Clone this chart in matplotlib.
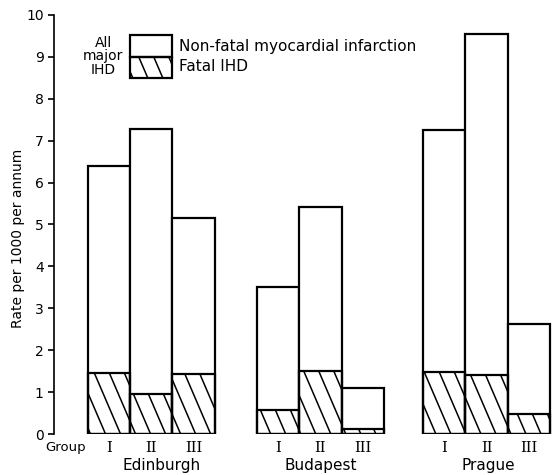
import numpy as np
import matplotlib
matplotlib.use('Agg')
import matplotlib.pyplot as plt
from matplotlib.collections import LineCollection

plt.rcParams['font.family'] = 'DejaVu Sans'

cities = ['Edinburgh', 'Budapest', 'Prague']
groups = ['I', 'II', 'III']
# all major IHD (total) and fatal IHD, per 1000 per annum
all_major = [[6.4, 7.28, 5.15],
             [3.5, 5.42, 1.1],
             [7.25, 9.55, 2.62]]
fatal = [[1.45, 0.95, 1.43],
         [0.57, 1.5, 0.13],
         [1.48, 1.4, 0.47]]

# layout (bar width = 1 unit)
city_start = [0.0, 4.0, 7.93]
city_label_shift = [0.25, 0.0, 0.05]

W, H = 557, 475
fig = plt.figure(figsize=(W / 100, H / 100), dpi=100)
ax = fig.add_axes([53.5 / W, (H - 434) / H, (556 - 53.5) / W, (434 - 15) / H])

# steep back-slash hatching, clipped to each patch
slope = 2.35
spacing = 0.355
offsets = np.arange(-1.5, 16, spacing)
hatch_segs = [[(c, 0), (c - 11 / slope, 11)] for c in offsets]


def hatch(patch):
    lc = LineCollection(hatch_segs, colors='black', linewidths=1.1, zorder=3)
    ax.add_collection(lc)
    lc.set_clip_path(patch)


for ci, city in enumerate(cities):
    xs = city_start[ci] + np.arange(len(groups))
    ax.bar(xs, all_major[ci], width=1.0, color='white', edgecolor='black',
           linewidth=1.6, zorder=2)
    bars = ax.bar(xs, fatal[ci], width=1.0, edgecolor='black',
                  linewidth=1.6, zorder=4, fill=False)
    for b in bars:
        hatch(b)
    for x, g in zip(xs, groups):
        ax.text(x, -0.33, g, ha='center', va='center', fontsize=10.5,
                family='DejaVu Serif')
    ax.text(xs[1] + city_label_shift[ci], -0.74, city, ha='center',
            va='center', fontsize=11)

ax.text(-1.51, -0.33, 'Group', ha='left', va='center', fontsize=9.5)

# legend box drawn in data space, above Edinburgh group II
lx = 1.0
ax.bar([lx], [0.52], bottom=9.0, width=1.0, color='white',
       edgecolor='black', linewidth=1.6, zorder=3)
lb = ax.bar([lx], [0.5], bottom=8.5, width=1.0, fill=False,
            edgecolor='black', linewidth=1.6, zorder=4)
hatch(lb[0])
ax.text(lx - 0.66, 9.02, 'All\nmajor\nIHD', ha='right', va='center',
        fontsize=10, linespacing=0.95, multialignment='center')
ax.text(lx + 0.66, 9.24, 'Non-fatal myocardial infarction', ha='left',
        va='center', fontsize=11)
ax.text(lx + 0.66, 8.76, 'Fatal IHD', ha='left', va='center', fontsize=11)

ax.set_xlim(-1.31, 10.57)
ax.set_ylim(0, 10)
ax.set_yticks(range(0, 11))
ax.tick_params(axis='y', direction='out', length=4, width=1.2, labelsize=10,
               pad=3)
ax.set_xticks([])
for s in ['top', 'right', 'bottom']:
    ax.spines[s].set_visible(False)
ax.spines['left'].set_linewidth(1.2)
fig.text(18 / W, 1 - 238 / H, 'Rate per 1000 per annum', rotation=90,
         ha='center', va='center', fontsize=10)

fig.savefig('out.png', dpi=100)
